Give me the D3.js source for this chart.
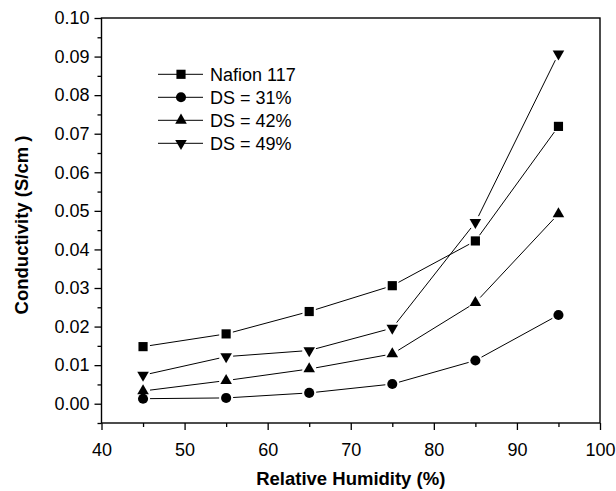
<!DOCTYPE html>
<html>
<head>
<meta charset="utf-8">
<script src="https://cdn.jsdelivr.net/npm/d3@7"></script>
<style>
  body { margin: 0; background: #fff; }
  text { font-family: "Liberation Sans", Arial, sans-serif; fill: #000; }
</style>
</head>
<body>
<div id="vis"></div>
<script>
'use strict';

// Data
const humidity = [45, 55, 65, 75, 85, 95];
const nafion117 = [0.0148, 0.0181, 0.0239, 0.0306, 0.0422, 0.0719];
const ds31 = [0.0013, 0.0015, 0.0028, 0.0051, 0.0112, 0.0230];
const ds42 = [0.0033, 0.0060, 0.0090, 0.0129, 0.0262, 0.0492];
const ds49 = [0.0074, 0.0122, 0.0138, 0.0196, 0.0470, 0.0907];
const seriesNames = ["Nafion 117", "DS = 31%", "DS = 42%", "DS = 49%"];
const xTicks = [40, 50, 60, 70, 80, 90, 100];
const yTicks = [0.00, 0.01, 0.02, 0.03, 0.04, 0.05, 0.06, 0.07, 0.08, 0.09, 0.10];

const series = [
    { name: seriesNames[0], values: nafion117, shape: "square" },
    { name: seriesNames[1], values: ds31, shape: "circle" },
    { name: seriesNames[2], values: ds42, shape: "up" },
    { name: seriesNames[3], values: ds49, shape: "down" }
];

const width = 616, height = 491;
const plot = { left: 101.5, right: 600, top: 18, bottom: 423 };

const x = d3.scaleLinear().domain([40, 100]).range([plot.left, plot.right]);
const y = d3.scaleLinear().domain([-0.005, 0.10]).range([plot.bottom, plot.top]);

const svg = d3.select("#vis").append("svg")
    .attr("width", width)
    .attr("height", height);

// Marker path generator
function markerPath(shape) {
    if (shape === "square") return d3.symbol(d3.symbolSquare, 84)();
    if (shape === "circle") return d3.symbol(d3.symbolCircle, 80)();
    return d3.symbol(d3.symbolTriangle, 58)();
}
function markerTransform(shape, px, py) {
    let t = "translate(" + px + "," + py + ")";
    if (shape === "down") t += " rotate(180)";
    return t;
}

// Axes: bottom and left with outward ticks, plus minor ticks
const xMinor = d3.range(45, 100, 10);
const yMinor = d3.range(-0.005, 0.1, 0.01);

const gx = svg.append("g").attr("transform", "translate(0," + plot.bottom + ")");
gx.call(d3.axisBottom(x).tickValues(xMinor).tickSize(4).tickFormat(""));
gx.call(g => g.selectAll(".domain").remove());
const gx2 = svg.append("g").attr("transform", "translate(0," + plot.bottom + ")");
gx2.call(d3.axisBottom(x).tickValues(xTicks).tickSize(7).tickPadding(13).tickFormat(d3.format("d")));
gx2.select(".domain").remove();

const gy = svg.append("g").attr("transform", "translate(" + plot.left + ",0)");
gy.call(d3.axisLeft(y).tickValues(yMinor).tickSize(4).tickFormat(""));
gy.select(".domain").remove();
const gy2 = svg.append("g").attr("transform", "translate(" + plot.left + ",0)");
gy2.call(d3.axisLeft(y).tickValues(yTicks).tickSize(7).tickPadding(5).tickFormat(d3.format(".2f")));
gy2.select(".domain").remove();

svg.selectAll(".tick line").attr("stroke", "#000").attr("stroke-width", 1.3);
svg.selectAll(".tick text")
    .attr("font-family", "Liberation Sans, Arial, sans-serif")
    .attr("font-size", "18px")
    .attr("fill", "#000");

// Frame
svg.append("rect")
    .attr("x", plot.left)
    .attr("y", plot.top)
    .attr("width", plot.right - plot.left)
    .attr("height", plot.bottom - plot.top)
    .attr("fill", "none")
    .attr("stroke", "#000")
    .attr("stroke-width", 1.4);

// Data lines with a small gap before each marker
const gap = 7;
series.forEach((s) => {
    const pts = humidity.map((h, i) => [x(h), y(s.values[i])]);
    for (let i = 0; i < pts.length - 1; i++) {
        const [x1, y1] = pts[i];
        const [x2, y2] = pts[i + 1];
        const len = Math.hypot(x2 - x1, y2 - y1);
        const ux = (x2 - x1) / len, uy = (y2 - y1) / len;
        svg.append("line")
            .attr("x1", x1 + ux * gap)
            .attr("y1", y1 + uy * gap)
            .attr("x2", x2 - ux * gap)
            .attr("y2", y2 - uy * gap)
            .attr("stroke", "#000")
            .attr("stroke-width", 1);
    }
    svg.append("g")
        .selectAll("path")
        .data(s.values)
        .enter()
        .append("path")
            .attr("d", markerPath(s.shape))
            .attr("transform", (d, i) => markerTransform(s.shape, x(humidity[i]), y(d)))
            .attr("fill", "#000");
});

// Legend
const legend = svg.append("g");
series.forEach((s, i) => {
    const ly = 74.3 + i * 23;
    legend.append("line")
        .attr("x1", 158).attr("x2", 203)
        .attr("y1", ly).attr("y2", ly)
        .attr("stroke", "#000").attr("stroke-width", 1);
    legend.append("path")
        .attr("d", markerPath(s.shape))
        .attr("transform", markerTransform(s.shape, 181, ly))
        .attr("fill", "#000");
    legend.append("text")
        .attr("x", 210)
        .attr("y", ly + 6.5)
        .style("font-size", "18px")
        .text(s.name);
});

// Axis titles
svg.append("text")
    .attr("x", (plot.left + plot.right) / 2)
    .attr("y", 485)
    .attr("text-anchor", "middle")
    .style("font-size", "18.5px")
    .style("font-weight", "bold")
    .text("Relative Humidity (%)");

svg.append("text")
    .attr("transform", "translate(28," + 225 + ") rotate(-90)")
    .attr("text-anchor", "middle")
    .style("font-size", "18.5px")
    .style("font-weight", "bold")
    .text("Conductivity (S/cm )");
</script>
</body>
</html>
